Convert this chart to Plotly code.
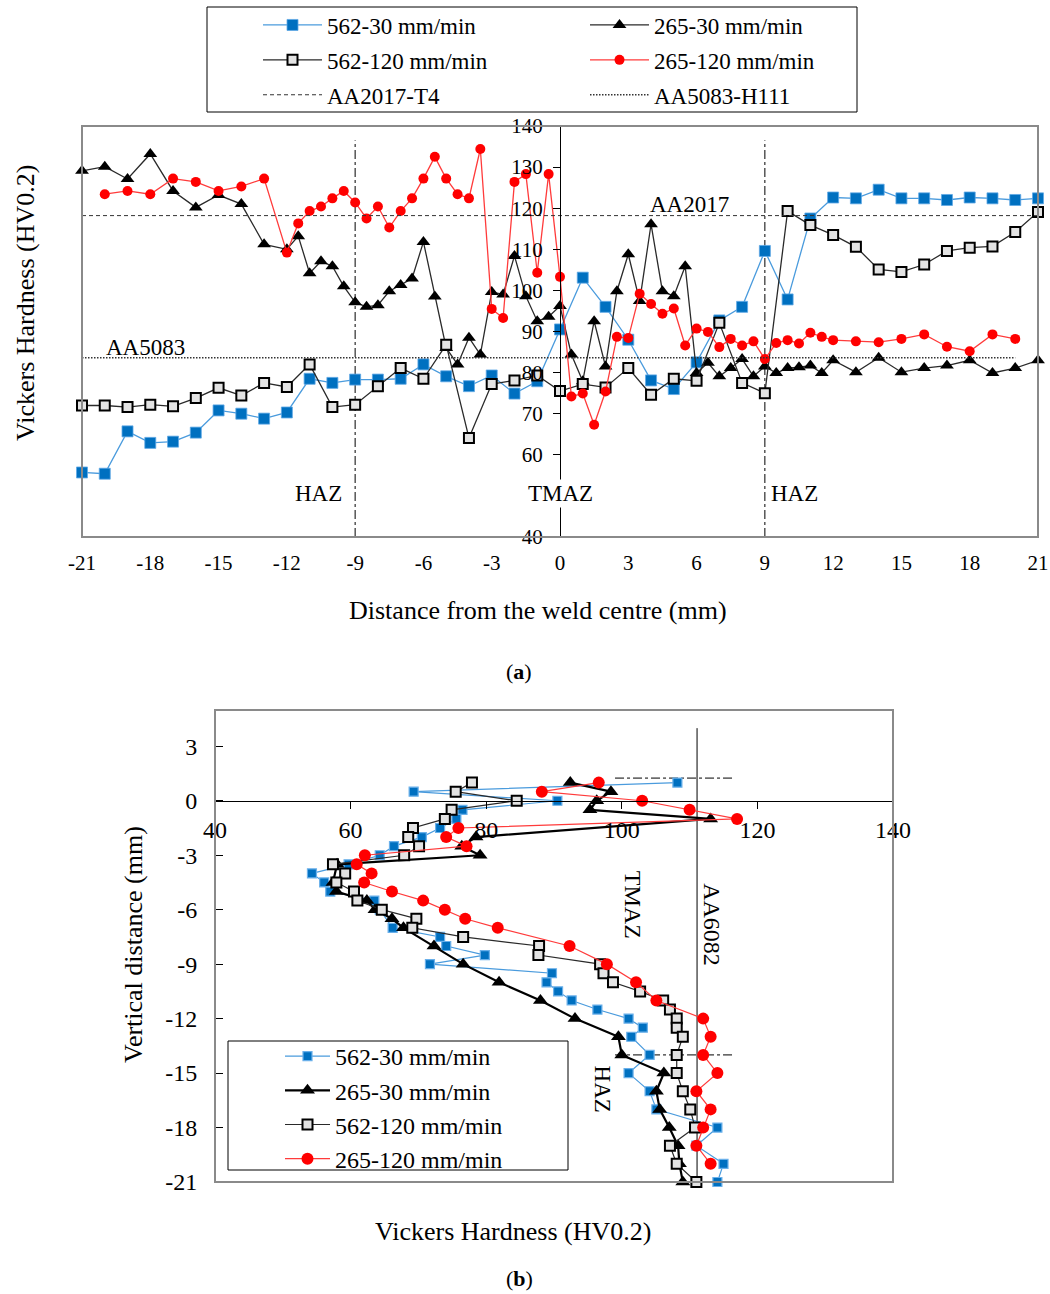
import plotly.graph_objects as go

W, H = 1050, 1294
FONT = "Liberation Serif"

# ---------------- Panel (a): hardness across the weld ----------------
a_x_562_30 = [-21, -20, -19, -18, -17, -16, -15, -14, -13, -12, -11, -10, -9, -8, -7, -6, -5, -4, -3, -2, -1,
              0, 1, 2, 3, 4, 5, 6, 7, 8, 9, 10, 11, 12, 13, 14, 15, 16, 17, 18, 19, 20, 21]
a_562_30 = [55.7, 55.4, 65.7, 62.9, 63.2, 65.4, 70.8, 70.0, 68.8, 70.3, 78.5, 77.5, 78.3, 78.3, 78.5, 82.0, 79.1,
            76.7, 79.3, 74.9, 77.9, 90.5, 103.1, 96.0, 88.0, 78.1, 76.0, 82.5, 92.7, 96.0, 109.6, 97.8, 117.5,
            122.6, 122.4, 124.5, 122.4, 122.4, 122.0, 122.6, 122.4, 122.0, 122.4]

a_x_562_120 = a_x_562_30
a_562_120 = [72.0, 72.0, 71.6, 72.2, 71.8, 73.8, 76.3, 74.4, 77.5, 76.5, 82.0, 71.6, 72.2, 76.7, 81.1, 78.5, 86.8,
             64.1, 77.2, 78.1, 79.3, 75.5, 77.2, 76.4, 81.1, 74.6, 78.5, 78.0, 92.1, 77.5, 75.0, 119.3, 115.9,
             113.5, 110.6, 105.1, 104.5, 106.3, 109.6, 110.4, 110.7, 114.2, 119.1]

a_x_265_30 = [-21, -20, -19, -18, -17, -16, -15, -14, -13, -12, -11.5, -11, -10.5, -10, -9.5, -9, -8.5, -8, -7.5,
              -7, -6.5, -6, -5.5, -5, -4.5, -4, -3.5, -3, -2.5, -2, -1.5, -1, -0.5, 0, 0.5, 1, 1.5, 2, 2.5, 3,
              3.5, 4, 4.5, 5, 5.5, 6, 6.5, 7, 7.5, 8, 8.5, 9, 9.5, 10, 10.5, 11, 11.5, 12, 13, 14, 15, 16, 17,
              18, 19, 20, 21]
a_265_30 = [129.1, 130.1, 127.1, 133.2, 124.2, 120.2, 123.2, 121.0, 111.2, 110.0, 113.2, 104.2, 107.1, 105.9,
            101.0, 97.1, 96.0, 96.4, 99.8, 101.3, 102.9, 111.8, 98.5, 86.0, 82.0, 88.5, 84.4, 99.6, 99.0, 108.4,
            98.6, 92.5, 93.6, 96.2, 84.4, 77.9, 92.5, 81.5, 99.8, 108.8, 97.4, 116.1, 99.8, 98.6, 105.9, 79.9,
            82.4, 79.1, 81.1, 83.3, 79.1, 81.5, 79.9, 81.1, 81.3, 81.7, 79.9, 83.0, 80.1, 83.6, 80.1, 81.1, 81.7,
            83.0, 79.9, 81.1, 83.0]

a_x_265_120 = [-20, -19, -18, -17, -16, -15, -14, -13, -12, -11.5, -11, -10.5, -10, -9.5, -9, -8.5, -8, -7.5,
               -7, -6.5, -6, -5.5, -5, -4.5, -4, -3.5, -3, -2.5, -2, -1.5, -1, -0.5, 0, 0.5, 1, 1.5, 2, 2.5, 3,
               3.5, 4, 4.5, 5, 5.5, 6, 6.5, 7, 7.5, 8, 8.5, 9, 9.5, 10, 10.5, 11, 11.5, 12, 13, 14, 15, 16, 17,
               18, 19, 20]
a_265_120 = [123.4, 124.2, 123.4, 127.2, 126.4, 124.2, 125.3, 127.2, 109.2, 116.3, 119.3, 120.4, 122.4, 124.2,
             121.4, 117.5, 120.4, 115.3, 119.3, 122.4, 127.2, 132.5, 127.2, 123.4, 122.4, 134.4, 95.5, 93.3,
             126.4, 128.3, 104.3, 128.3, 103.3, 74.2, 74.9, 67.3, 75.4, 88.7, 88.4, 99.2, 96.7, 94.3, 95.6, 86.6,
             90.7, 89.9, 86.2, 88.2, 86.6, 87.6, 83.3, 87.2, 87.9, 87.1, 89.7, 88.7, 87.9, 87.6, 87.4, 88.2, 89.3,
             86.3, 85.2, 89.3, 88.2]

a_AA2017_T4 = 118.2
a_AA2017_x = [-21, 21]
a_AA5083_H111 = 83.6
a_AA5083_x = [-21, 20]
a_haz_bounds = [-9, 9]
a_haz_top = 136.5

a_xtick_vals = [-21, -18, -15, -12, -9, -6, -3, 0, 3, 6, 9, 12, 15, 18, 21]
a_xtick_text = ["-21", "-18", "-15", "-12", "-9", "-6", "-3", "0", "3", "6", "9", "12", "15", "18", "21"]
a_ytick_vals = [40, 60, 70, 80, 90, 100, 110, 120, 130, 140]

# ---------------- Panel (b): hardness through the thickness ----------------
b_d_562_30 = [1, 0.5, 0, -0.5, -1, -1.5, -2, -2.5, -3, -3.5, -4, -4.5, -5, -5.5, -6, -7, -7.5, -8, -8.5, -9,
              -9.5, -10, -10.5, -11, -11.5, -12, -12.5, -13, -14, -15, -16, -17, -18, -19, -20, -21]
b_562_30 = [108.2, 69.3, 90.5, 76.5, 75.6, 73.2, 70.5, 66.4, 64.3, 59.7, 54.3, 56.1, 57.0, 63.5, 64.3, 66.2,
            73.2, 74.1, 79.8, 71.7, 89.7, 88.9, 90.6, 92.6, 96.4, 101.0, 103.1, 101.4, 104.1, 101.0, 104.1,
            105.1, 114.1, 111.0, 115.0, 114.1]

b_d_265_30 = [1, 0.5, 0, -0.5, -1, -2, -2.5, -3, -3.5, -4.5, -5, -5.5, -6, -6.5, -7, -8, -9, -10, -11, -12,
              -13, -14, -15, -16, -17, -18, -19, -20, -21]
b_265_30 = [92.4, 98.4, 96.3, 95.3, 113.1, 78.5, 76.4, 79.1, 58.0, 57.4, 57.9, 62.4, 63.6, 66.1, 67.8, 72.3,
            76.6, 81.9, 88.0, 93.1, 99.5, 100.0, 106.2, 105.1, 105.6, 107.0, 108.3, 108.5, 109.0]

b_d_562_120 = [1, 0.5, 0, -0.5, -1, -1.5, -2, -2.5, -3, -3.5, -4, -4.5, -5, -5.5, -6, -6.5, -7, -7.5, -8, -8.5,
               -9, -9.5, -10, -10.5, -11, -11.5, -12, -12.5, -13, -14, -15, -16, -17, -18, -19, -20, -21]
b_562_120 = [77.9, 75.5, 84.5, 74.9, 73.9, 69.2, 68.5, 70.1, 67.9, 57.4, 59.2, 57.9, 60.5, 61.0, 64.6, 69.7,
             69.1, 76.6, 87.8, 87.7, 96.8, 97.3, 98.7, 102.7, 106.1, 107.1, 108.1, 108.1, 109.0, 108.1, 108.1,
             109.0, 110.1, 110.8, 107.1, 108.1, 111.0]

b_d_265_120 = [1, 0.5, 0, -0.5, -1, -1.5, -2, -2.5, -3, -3.5, -4, -4.5, -5, -5.5, -6, -6.5, -7, -8, -9, -10,
               -11, -12, -13, -14, -15, -16, -17, -18, -19, -20]
b_265_120 = [96.6, 88.2, 103.0, 110.0, 117.0, 75.9, 74.1, 77.1, 62.1, 60.9, 63.1, 62.0, 66.1, 70.7, 73.9, 76.9,
             81.7, 92.3, 97.8, 102.1, 105.1, 112.0, 113.1, 112.0, 114.1, 111.0, 113.1, 112.0, 111.0, 113.1]

b_AA6082 = 111.1
b_AA6082_span = [-21, 4.0]
b_zone_depths = [1.25, -14]
b_zone_span = [99, 116.4]

b_xtick_vals = [40, 60, 80, 100, 120, 140]
b_ytick_vals = [3, 0, -3, -6, -9, -12, -15, -18, -21]
b_ytick_text = ["3", "0", "-3", "-6", "-9", "-12", "-15", "-18", "-21"]

# ---------------- layout geometry (pixels -> paper) ----------------
def px(x):
    return x / W

def py(y):
    return 1 - y / H

A_XDOM = [px(82), px(1038)]
A_YDOM = [py(537), py(126)]
B_XDOM = [px(215), px(893)]
B_YDOM = [py(1182), py(710)]
B_YRANGE = [-21, 5]
b_x_axis_pos = B_YDOM[0] + (0 - B_YRANGE[0]) / (B_YRANGE[1] - B_YRANGE[0]) * (B_YDOM[1] - B_YDOM[0])

BLUE_M = "#0070C0"
BLUE_L = "#4A9BDD"
RED = "#FF0000"
RED_L = "#FF3B3B"
DARK = "#2A2A2A"
GRAYF = "#E3E3E3"

fig = go.Figure()

def series(x, y, name, legend, group, line, marker, xa, ya):
    return go.Scatter(x=x, y=y, name=name, mode="lines+markers", line=line, marker=marker,
                      xaxis=xa, yaxis=ya, legend=legend, legendgroup=group, cliponaxis=False)

# Panel (a) traces: column 1 of legend -> "legend", column 2 -> "legend3"
fig.add_trace(series(a_x_562_30, a_562_30, "562-30 mm/min", "legend", "a1",
                     dict(color=BLUE_L, width=1.3),
                     dict(symbol="square", size=11, color=BLUE_M, line=dict(color="#5FA8E6", width=0.8)), "x", "y"))
fig.add_trace(series(a_x_265_30, a_265_30, "265-30 mm/min", "legend3", "a2",
                     dict(color=DARK, width=1.3),
                     dict(symbol="triangle-up", size=12, color="black"), "x", "y"))
fig.add_trace(series(a_x_562_120, a_562_120, "562-120 mm/min", "legend", "a3",
                     dict(color=DARK, width=1.3),
                     dict(symbol="square", size=10, color=GRAYF, line=dict(color="black", width=2)), "x", "y"))
fig.add_trace(series(a_x_265_120, a_265_120, "265-120 mm/min", "legend3", "a4",
                     dict(color=RED_L, width=1.3),
                     dict(symbol="circle", size=10, color=RED), "x", "y"))
fig.add_trace(go.Scatter(x=a_AA2017_x, y=[a_AA2017_T4] * len(a_AA2017_x), name="AA2017-T4", mode="lines",
                         line=dict(color="#333333", width=1, dash="4px,3px"), legendgroup="a5",
                         xaxis="x", yaxis="y", legend="legend"))
fig.add_trace(go.Scatter(x=a_AA5083_x, y=[a_AA5083_H111] * len(a_AA5083_x), name="AA5083-H111", mode="lines",
                         line=dict(color="#333333", width=1.5, dash="1.5px,1.5px"), legendgroup="a6",
                         xaxis="x", yaxis="y", legend="legend3"))

# Panel (b) traces
fig.add_trace(series(b_562_30, b_d_562_30, "562-30 mm/min", "legend2", "b1",
                     dict(color=BLUE_L, width=1.2),
                     dict(symbol="square", size=9, color=BLUE_M, line=dict(color="#6AB0EA", width=1.2)), "x2", "y2"))
fig.add_trace(series(b_265_30, b_d_265_30, "265-30 mm/min", "legend2", "b2",
                     dict(color="black", width=2.2),
                     dict(symbol="triangle-up", size=13, color="black"), "x2", "y2"))
fig.add_trace(series(b_562_120, b_d_562_120, "562-120 mm/min", "legend2", "b3",
                     dict(color=DARK, width=1.2),
                     dict(symbol="square", size=10, color=GRAYF, line=dict(color="black", width=2)), "x2", "y2"))
fig.add_trace(series(b_265_120, b_d_265_120, "265-120 mm/min", "legend2", "b4",
                     dict(color=RED_L, width=1.2),
                     dict(symbol="circle", size=12, color=RED), "x2", "y2"))

shapes = []
for xb in a_haz_bounds:
    shapes.append(dict(type="line", xref="x", yref="y", x0=xb, x1=xb, y0=40, y1=a_haz_top,
                       line=dict(color="black", width=1, dash="dashdot"), layer="below"))
shapes.append(dict(type="rect", xref="x domain", yref="y domain", x0=0, x1=1, y0=0, y1=1,
                   line=dict(color="#8A8A8A", width=2)))
shapes.append(dict(type="rect", xref="x2 domain", yref="y2 domain", x0=0, x1=1, y0=0, y1=1,
                   line=dict(color="#8A8A8A", width=2)))
shapes.append(dict(type="line", xref="x2", yref="y2", x0=b_AA6082, x1=b_AA6082,
                   y0=b_AA6082_span[0], y1=b_AA6082_span[1], line=dict(color="black", width=1), layer="below"))
for d in b_zone_depths:
    shapes.append(dict(type="line", xref="x2", yref="y2", x0=b_zone_span[0], x1=b_zone_span[1], y0=d, y1=d,
                       line=dict(color="black", width=1, dash="dashdot"), layer="below"))
shapes.append(dict(type="rect", xref="paper", yref="paper", x0=px(207), x1=px(857), y0=py(112), y1=py(7),
                   line=dict(color="black", width=1)))
shapes.append(dict(type="rect", xref="paper", yref="paper", x0=px(228), x1=px(568), y0=py(1170), y1=py(1041),
                   line=dict(color="black", width=1)))

def txt(text, x, y, size, xref="paper", yref="paper", angle=0, bg=None):
    d = dict(text=text, x=x, y=y, xref=xref, yref=yref, showarrow=False, textangle=angle,
             font=dict(family=FONT, size=size, color="black"), xanchor="center", yanchor="middle")
    if bg:
        d["bgcolor"] = bg
    return d

annotations = [
    txt("Vickers Hardness (HV0.2)", px(26), py(303), 26, angle=-90),
    txt("Distance from the weld centre (mm)", px(538), py(611), 26),
    txt("(<b>a</b>)", px(519), py(671), 22),
    txt("AA2017", 5.7, 121.0, 23, xref="x", yref="y"),
    txt("AA5083", -18.2, 86.1, 23, xref="x", yref="y"),
    txt("HAZ", -10.6, 50.7, 23, xref="x", yref="y"),
    txt("TMAZ", 0, 50.7, 23, xref="x", yref="y", bg="white"),
    txt("HAZ", 10.3, 50.7, 23, xref="x", yref="y"),
    txt("Vertical distance (mm)", px(133), py(945), 26, angle=-90),
    txt("Vickers Hardness (HV0.2)", px(513), py(1231), 26),
    txt("(<b>b</b>)", px(519), py(1278), 22),
    txt("TMAZ", 101.7, -5.75, 24, xref="x2", yref="y2", angle=90),
    txt("AA6082", 113.3, -6.85, 24, xref="x2", yref="y2", angle=90),
    txt("HAZ", 97.2, -15.9, 23, xref="x2", yref="y2", angle=90),
]

ax = dict(showgrid=False, zeroline=False, automargin=False)
leg = dict(orientation="v", xanchor="left", yanchor="top", bgcolor="rgba(0,0,0,0)", borderwidth=0,
           traceorder="grouped")

fig.update_layout(
    template="none",
    width=W, height=H,
    margin=dict(l=0, r=0, t=0, b=0, pad=0, autoexpand=False),
    paper_bgcolor="white", plot_bgcolor="white",
    font=dict(family=FONT, color="black"),
    xaxis=dict(domain=A_XDOM, range=[-21, 21], anchor="y", tickvals=a_xtick_vals, ticktext=a_xtick_text,
               ticks="", showline=False, tickfont=dict(size=21), ticklabelstandoff=11, **ax),
    yaxis=dict(domain=A_YDOM, range=[40, 140], anchor="free", position=px(560), tickvals=a_ytick_vals,
               ticks="outside", ticklen=7, tickcolor="black", showline=True, linecolor="black", linewidth=1,
               tickfont=dict(size=21), ticklabelstandoff=6, **ax),
    yaxis3=dict(overlaying="y", range=[40, 140], anchor="free", position=px(560), tickvals=a_ytick_vals,
                ticks="inside", ticklen=7, tickcolor="black", showticklabels=False, showline=False, **ax),
    xaxis2=dict(domain=B_XDOM, range=[40, 140], anchor="free", position=b_x_axis_pos, tickvals=b_xtick_vals,
                ticks="outside", ticklen=7, tickcolor="black", showline=True, linecolor="black", linewidth=1.2,
                tickfont=dict(size=24), ticklabelstandoff=0, **ax),
    xaxis4=dict(overlaying="x2", range=[40, 140], anchor="free", position=b_x_axis_pos, tickvals=b_xtick_vals,
                ticks="inside", ticklen=7, tickcolor="black", showticklabels=False, showline=False, **ax),
    yaxis2=dict(domain=B_YDOM, range=B_YRANGE, anchor="free", position=px(215), tickvals=b_ytick_vals,
                ticktext=b_ytick_text, ticks="inside", ticklen=7, tickcolor="black", showline=True,
                linecolor="#222222", linewidth=2, tickfont=dict(size=24), ticklabelstandoff=12, **ax),
    legend=dict(x=px(258), y=py(3.5), font=dict(family=FONT, size=23), itemwidth=59, tracegroupgap=2, **leg),
    legend3=dict(x=px(585), y=py(3.5), font=dict(family=FONT, size=23), itemwidth=59, tracegroupgap=2, **leg),
    legend2=dict(x=px(280), y=py(1034), font=dict(family=FONT, size=24), itemwidth=45, tracegroupgap=0, **leg),
    shapes=shapes,
    annotations=annotations,
)

fig.write_html("out.html",
               config={"displayModeBar": False},
               post_script="document.body.style.margin='0';document.body.style.padding='0';"
                           "document.documentElement.style.overflow='hidden';")
